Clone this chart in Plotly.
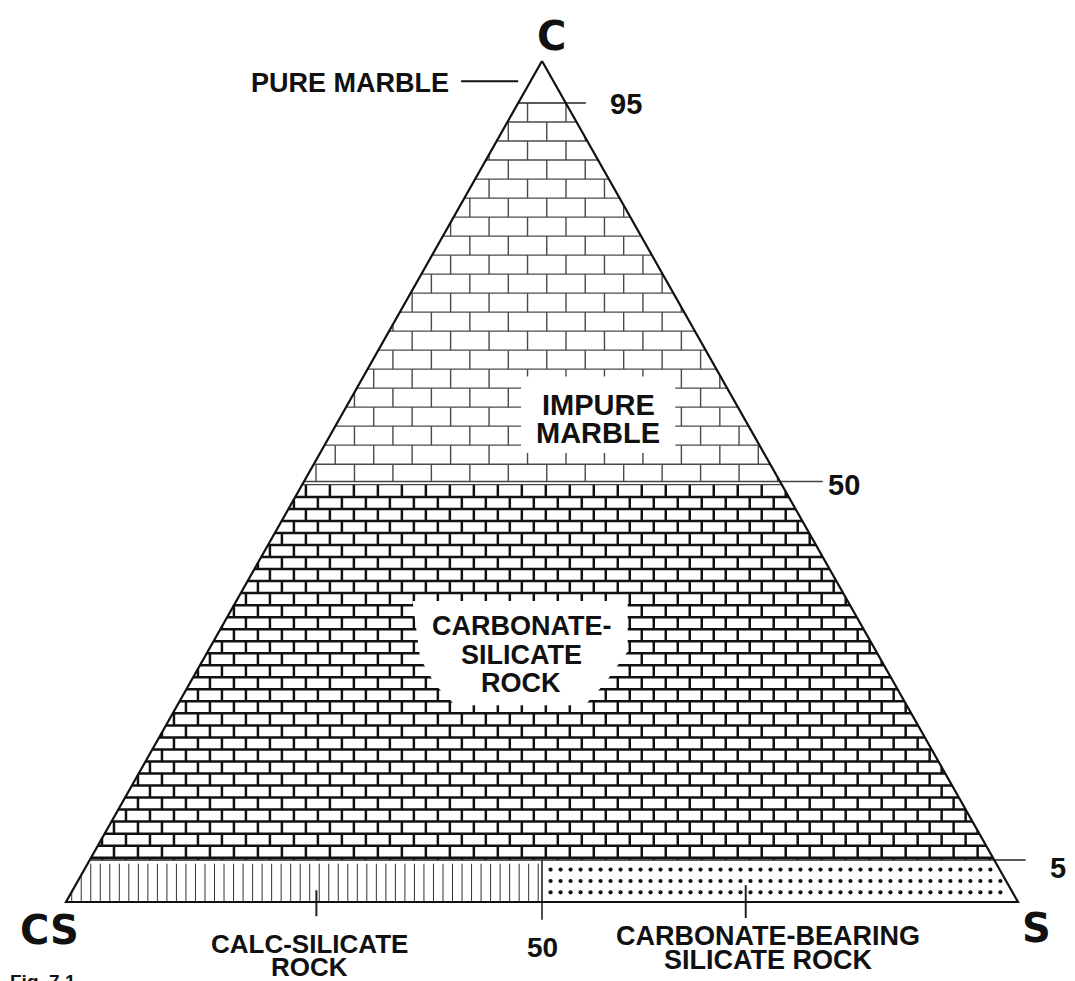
import plotly.graph_objects as go

# ---- data: ternary classification of carbonate / calc-silicate rocks (C, CS, S in %) ----
vertex_names = ["C", "CS", "S"]
vertex_C = [100, 0, 0]          # % carbonate at each vertex
vertex_S = [0, 0, 100]          # % silicate at each vertex
boundary_C = [95, 50, 5]        # carbonate boundaries (%)
boundary_S = [50]               # silicate split in the lowest field (%)
boundary_labels = ["95", "50", "5"]
split_label = "50"
field_names = ["PURE MARBLE", "IMPURE<br>MARBLE", "CARBONATE-<br>SILICATE<br>ROCK",
               "CALC-SILICATE<br>ROCK", "CARBONATE-BEARING<br>SILICATE ROCK"]


def xy(c, s):
    """ternary (C, S) -> cartesian (x, y)"""
    return s + c / 2.0, c


def left_x(c):
    return c / 2.0


def right_x(c):
    return 100 - c / 2.0


# pixel geometry of the figure
W, H = 1075, 981
PX0, PX1, PY_BASE, PY_APEX = 58, 1010, 894, 53
sx = (PX1 - PX0) / 100.0
sy = (PY_BASE - PY_APEX) / 100.0
xr = [-PX0 / sx, (W - PX0) / sx]
yr = [-(H - PY_BASE) / sy, PY_BASE / sy]

fig = go.Figure()


def add_lines(xs, ys, color, width):
    fig.add_trace(go.Scatter(x=xs, y=ys, mode="lines", line=dict(color=color, width=width),
                             hoverinfo="skip", showlegend=False))


def bricks(c_top, c_bot, h, w):
    xs, ys = [], []
    k = 0
    ya = c_top
    while ya > c_bot + 1e-9:
        yb = max(ya - h, c_bot)
        if yb > c_bot + 1e-9:
            xs += [left_x(yb), right_x(yb), None]
            ys += [yb, yb, None]
        x = (k % 2) * w / 2.0
        while x <= 100:
            top = min(ya, 2 * x, 200 - 2 * x)
            if top > yb:
                xs += [x, x, None]
                ys += [yb, top, None]
            x += w
        ya = yb
        k += 1
    return xs, ys


c95, c50, c5 = boundary_C
s50 = boundary_S[0]

# impure marble bricks (large, thin)
bx, by = bricks(c95, c50, 2.26, 4.04)
add_lines(bx, by, "#4a4a4a", 1.4)
# carbonate-silicate rock bricks (small, heavy)
bx, by = bricks(c50 - 0.4, c5, 1.43, 2.52)
add_lines(bx, by, "#111111", 2.5)

# calc-silicate rock: vertical hatch
hx, hy = [], []
x = 0.6
while x < s50:
    top = min(c5 - 0.45, 2 * x)
    if top > 0:
        hx += [x, x, None]
        hy += [0, top, None]
    x += 1.0
add_lines(hx, hy, "#333333", 1.0)

# carbonate-bearing silicate rock: dots
dx, dy = [], []
for c in [3.85, 2.5, 1.15]:
    x = s50 + 0.9
    while x <= right_x(c) - 0.5:
        dx.append(x)
        dy.append(c)
        x += 1.05
fig.add_trace(go.Scatter(x=dx, y=dy, mode="markers", marker=dict(color="#111111", size=4.2),
                         hoverinfo="skip", showlegend=False))

# boundary lines
add_lines([left_x(c95), 54.6], [c95, c95], "#222222", 1.4)
add_lines([left_x(c50), 79.5, None, left_x(c50 - 0.38), right_x(c50 - 0.38)],
          [c50, c50, None, c50 - 0.38, c50 - 0.38], "#444444", 1.3)
add_lines([left_x(c5), 100.8], [c5, c5], "#222222", 1.4)
add_lines([s50, s50], [c5, -2.1], "#222222", 1.6)
# pointer ticks
add_lines([26.3, 26.3, None, 71.4, 71.4], [1.4, -1.7, None, 2.0, -1.9], "#222222", 2.0)
add_lines([41.5, 47.5], [97.6, 97.6], "#111111", 2.0)

# triangle outline
tx = [xy(c, s)[0] for c, s in zip(vertex_C + vertex_C[:1], vertex_S + vertex_S[:1])]
ty = [xy(c, s)[1] for c, s in zip(vertex_C + vertex_C[:1], vertex_S + vertex_S[:1])]
add_lines(tx, ty, "#111111", 2.2)

# white panels behind field labels (bricks cleared around the text)
shapes = [
    dict(type="rect", xref="x", yref="y", x0=47.8, x1=64.0, y0=53.4, y1=62.5,
         fillcolor="white", line=dict(width=0), layer="above"),
    dict(type="path", xref="x", yref="y",
         path="M 36.4 35.8 L 59.0 35.8 L 59.0 29.8 L 56.6 26.0 L 54.5 23.4 "
              "L 40.9 23.4 L 38.8 25.8 L 37.2 29.0 Z",
         fillcolor="white", line=dict(width=0), layer="above"),
]

FONT = "Liberation Sans, Arial, sans-serif"
WIDE = "DejaVu Sans, sans-serif"
ann = []


def label(text, x, y, size, xanchor="center", yanchor="middle", family=FONT):
    ann.append(dict(text="<b>%s</b>" % text, x=x, y=y, xref="x", yref="y", showarrow=False,
                    xanchor=xanchor, yanchor=yanchor, borderpad=0,
                    font=dict(family=family, size=size, color="#111111")))


# vertices
label(vertex_names[0], 51.0, 103.0, 40, family=WIDE)
label(vertex_names[1], -1.7, -3.3, 40, family=WIDE)
label(vertex_names[2], 101.9, -3.1, 40, family=WIDE)
# boundary values
label(boundary_labels[0], 58.8, 94.9, 29)
label(boundary_labels[1], 81.7, 49.6, 29)
label(boundary_labels[2], 104.2, 4.0, 29)
label(split_label, 50.0, -5.4, 28)
# fields
label(field_names[0].replace("<br>", " "), 40.3, 97.4, 27, xanchor="right")
for i, t in enumerate(field_names[1].split("<br>")):
    label(t, 55.9, 59.1 - i * 3.33, 29)
for i, t in enumerate(field_names[2].split("<br>")):
    label(t, 47.8, 32.8 - i * 3.39, 27)
for i, t in enumerate(field_names[3].split("<br>")):
    label(t, 25.6, -4.95 - i * 2.75, 26)
for i, t in enumerate(field_names[4].split("<br>")):
    label(t, 73.7, -4.0 - i * 2.85, 27)
label("Fig. 7.1", xr[0] + 0.1, -8.05, 19, xanchor="left", yanchor="top")

fig.update_layout(
    width=W, height=H, margin=dict(l=0, r=0, t=0, b=0),
    paper_bgcolor="white", plot_bgcolor="white",
    xaxis=dict(range=xr, visible=False, fixedrange=True),
    yaxis=dict(range=yr, visible=False, fixedrange=True),
    shapes=shapes, annotations=ann, showlegend=False,
)
fig.write_html("out.html")
